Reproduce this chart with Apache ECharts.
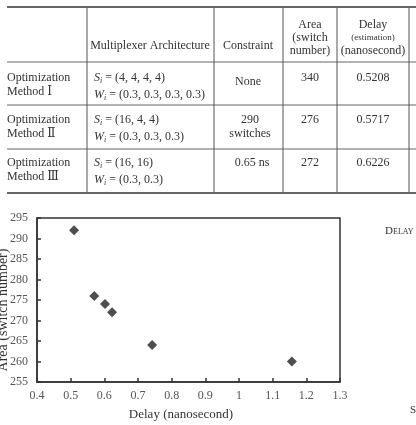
<!DOCTYPE html>
<html>
<head>
<meta charset="utf-8">
<script src="https://cdn.jsdelivr.net/npm/echarts@6/dist/echarts.min.js"></script>
<style>
  html, body { margin: 0; padding: 0; background: #fff; }
  #main { width: 416px; height: 425px; }
</style>
</head>
<body>
<div id="main"></div>
<script>
// 表格数据
var methodNames = ['Optimization|Method Ⅰ', 'Optimization|Method Ⅱ', 'Optimization|Method Ⅲ'];
var archS = ['(4, 4, 4, 4)', '(16, 4, 4)', '(16, 16)'];
var archW = ['(0.3, 0.3, 0.3, 0.3)', '(0.3, 0.3, 0.3)', '(0.3, 0.3)'];
var constraints = ['None', '290|switches', '0.65 ns'];
var areas = ['340', '276', '272'];
var delays = ['0.5208', '0.5717', '0.6226'];

// 散点数据
var delayPoints = [0.51, 0.57, 0.602, 0.623, 0.742, 1.157];
var areaPoints = [292, 276, 274, 272, 264, 260];
var xTicks = { min: 0.4, max: 1.3, step: 0.1 };
var yTicks = { min: 255, max: 295, step: 5 };

var SERIF = '"Liberation Serif", "DejaVu Serif", "Noto Sans CJK SC", serif';
var TXT = '#333';
var LINE = '#555';

var chart = echarts.init(document.getElementById('main'));

var scatterData = [];
for (var i = 0; i < delayPoints.length; i++) {
    scatterData.push([delayPoints[i], areaPoints[i]]);
}

// 画表格
var g = [];
function hline(y, w) {
    g.push({ type: 'line', shape: { x1: 7, y1: y, x2: 416, y2: y }, style: { stroke: '#666', lineWidth: w } });
}
function vline(x) {
    g.push({ type: 'line', shape: { x1: x, y1: 8, x2: x, y2: 192 }, style: { stroke: LINE, lineWidth: 1 } });
}
function txt(x, y, s, align, size, extra) {
    var st = { text: s, x: x, y: y, fill: TXT, font: (size || 12) + 'px ' + SERIF, align: align || 'center', verticalAlign: 'middle' };
    if (extra) { for (var k in extra) st[k] = extra[k]; }
    g.push({ type: 'text', style: st });
}

hline(7, 2); hline(62, 1); hline(105, 1); hline(149, 1); hline(193, 2);
[87, 214, 283, 337, 409].forEach(vline);

// 表头
txt(150, 46, 'Multiplexer Architecture');
txt(248, 46, 'Constraint');
txt(310, 25, 'Area'); txt(310, 38, '(switch'); txt(310, 51, 'number)');
txt(373, 25, 'Delay'); txt(373, 38, '(estimation)', 'center', 9); txt(373, 51, '(nanosecond)');

var rowTop = [78, 120, 163];
var rich = {
    it: { fontStyle: 'italic', fontFamily: SERIF, fontSize: 12, fill: TXT },
    sub: { fontStyle: 'italic', fontFamily: SERIF, fontSize: 8, fill: TXT, padding: [6, 0, 0, 0] },
    n: { fontFamily: SERIF, fontSize: 12, fill: TXT }
};
for (var r = 0; r < 3; r++) {
    var y = rowTop[r];
    var nm = methodNames[r].split('|');
    txt(7, y, nm[0], 'left');
    txt(7, y + 14, nm[1], 'left');
    g.push({ type: 'text', style: { text: '{it|S}{sub|i}{n| = ' + archS[r] + '}', x: 94, y: y, align: 'left', verticalAlign: 'middle', rich: rich } });
    g.push({ type: 'text', style: { text: '{it|W}{sub|i}{n| = ' + archW[r] + '}', x: 94, y: y + 17, align: 'left', verticalAlign: 'middle', rich: rich } });
    var c = constraints[r].split('|');
    if (c.length > 1) {
        txt(250, y, c[0]); txt(250, y + 14, c[1]);
    } else if (r === 0) {
        txt(248, y + 4, c[0]);
    } else {
        txt(252, y, c[0]);
    }
    txt(310, y, areas[r]);
    txt(373, y, delays[r]);
}

// 右侧残字
txt(385, 231, 'D', 'left', 11);
txt(393, 232, 'ELAY', 'left', 8);
txt(410, 410, 'S', 'left', 11);

var option = {
    animation: false,
    backgroundColor: '#fff',
    graphic: g,
    grid: {
        left: 37, right: 76, top: 218, bottom: 43,
        outerBoundsMode: 'none',
        containLabel: false,
        show: true, borderColor: '#333', borderWidth: 1.5
    },
    xAxis: {
        type: 'value',
        min: xTicks.min, max: xTicks.max, interval: xTicks.step,
        name: 'Delay (nanosecond)',
        nameLocation: 'middle', nameGap: 26,
        nameTextStyle: { color: TXT, fontSize: 13, fontFamily: SERIF, padding: [0, 15, 0, 0] },
        axisLine: { show: true, onZero: false, lineStyle: { color: '#333', width: 1.5 } },
        axisTick: { show: true, inside: true, length: 4, lineStyle: { color: '#333', width: 1.5 } },
        axisLabel: { color: '#555', fontSize: 12, fontFamily: SERIF, margin: 8 },
        splitLine: { show: false }
    },
    yAxis: {
        type: 'value',
        min: yTicks.min, max: yTicks.max, interval: yTicks.step,
        name: 'Area (switch number)',
        nameLocation: 'middle', nameGap: 27,
        nameTextStyle: { color: TXT, fontSize: 14, fontFamily: SERIF, padding: [0, 20, 0, 0] },
        nameMoveOverlap: false,
        axisLine: { show: true, onZero: false, lineStyle: { color: '#333', width: 1.5 } },
        axisTick: { show: true, inside: true, length: 4, lineStyle: { color: '#333', width: 1.5 } },
        axisLabel: { color: '#555', fontSize: 12, fontFamily: SERIF, margin: 9 },
        splitLine: { show: false }
    },
    series: [{
        type: 'scatter',
        symbol: 'diamond',
        symbolSize: [10, 10],
        itemStyle: { color: '#222' },
        data: scatterData
    }]
};

chart.setOption(option);
</script>
</body>
</html>
